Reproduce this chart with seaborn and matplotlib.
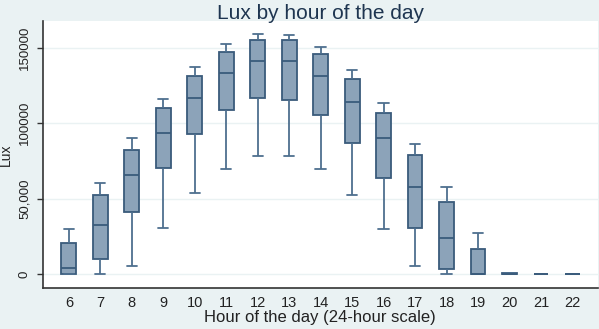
import matplotlib
matplotlib.use("Agg")
import matplotlib.pyplot as plt
import matplotlib.ticker as mticker
import seaborn as sns
import pandas as pd
import numpy as np

hours = [6, 7, 8, 9, 10, 11, 12, 13, 14, 15, 16, 17, 18, 19, 20, 21, 22]
lows  = [0, 0, 5300, 30700, 53800, 69500, 78150, 78150, 69500, 52500, 29800, 5300, 0, 0, 0, 0, 0]
q1s   = [200, 10100, 41000, 70000, 92500, 108400, 116600, 115400, 105300, 86700, 63800, 30700, 3300, 0, 0, 0, 0]
meds  = [3800, 32600, 65300, 93200, 116800, 133100, 140900, 140900, 131300, 114100, 90300, 57400, 23600, 300, 0, 0, 0]
q3s   = [20700, 52500, 81900, 109700, 131100, 147000, 154800, 154800, 145500, 129300, 106600, 78800, 47500, 16500, 800, 0, 0]
highs = [29800, 60300, 90100, 116100, 137300, 152100, 159100, 158500, 150500, 135100, 113000, 86100, 57400, 27100, 1000, 0, 0]

rows = []
for h, a, b, c, d, e in zip(hours, lows, q1s, meds, q3s, highs):
    for v in (a, b, c, d, e):
        rows.append({"hour": str(h), "lux": v})
df = pd.DataFrame(rows)

BG = "#EAF2F3"
FILL = "#8CA3B9"
EDGE = "#3A5B7B"
WHISK = "#4E6F8F"

sns.set_theme(style="white")
plt.rcParams["font.family"] = ["Liberation Sans", "DejaVu Sans"]

fig = plt.figure(figsize=(5.99, 3.29), dpi=100, facecolor=BG)
ax = fig.add_axes([0.0718, 0.1255, 0.926, 0.8105])
ax.set_facecolor("white")

sns.boxplot(data=df, x="hour", y="lux", order=[str(h) for h in hours],
            whis=float("inf"), width=0.47, ax=ax, linewidth=1.3,
            boxprops=dict(facecolor=FILL, edgecolor=EDGE),
            medianprops=dict(color=EDGE, linewidth=1.3),
            whiskerprops=dict(color=WHISK, linewidth=1.3),
            capprops=dict(color=WHISK, linewidth=1.3),
            showfliers=False)

# widen the caps a little (reference caps ~0.7 of box width)
for ln in ax.lines:
    xd = np.asarray(ln.get_xdata(), dtype=float)
    yd = np.asarray(ln.get_ydata(), dtype=float)
    if len(xd) == 2 and yd[0] == yd[1]:
        span = abs(xd[1] - xd[0])
        if 0 < span < 0.4:
            c = xd.mean()
            ln.set_xdata([c - 0.165, c + 0.165])

ax.set_xlim(-0.82, 16.8)
ax.set_ylim(-9070, 167550)
ax.yaxis.set_major_locator(mticker.FixedLocator([0, 50000, 100000, 150000]))
ax.set_yticklabels(["0", "50,000", "100000", "150000"], rotation=90, va="center",
                   fontsize=9.5, color="#222222")
ax.grid(axis="y", color=BG, linewidth=1.0)
ax.set_axisbelow(True)
ax.tick_params(axis="y", direction="out", length=4, width=1, color="#333333", pad=5, left=True)
ax.tick_params(axis="x", length=0, pad=6, labelsize=10.5, labelcolor="#222222")

for s in ("top", "right"):
    ax.spines[s].set_visible(False)
for s in ("left", "bottom"):
    ax.spines[s].set_color("#333333")
    ax.spines[s].set_linewidth(1.2)

ax.set_xlabel("Hour of the day (24-hour scale)", fontsize=12, color="#222222", labelpad=0)
ax.set_ylabel("Lux", fontsize=10, color="#222222", labelpad=4)
ax.set_title("Lux by hour of the day", fontsize=15, color="#1E3550", pad=1.5)

fig.savefig("out.png", dpi=100, facecolor=BG)
